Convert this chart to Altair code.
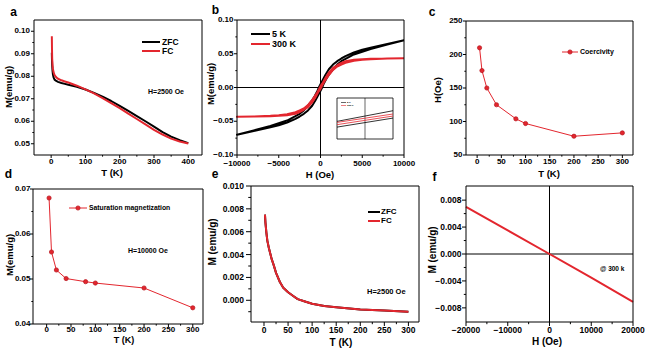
import altair as alt
import pandas as pd

FONT = "Liberation Sans"
RED = "#e3262e"
DRED = "#b5121b"
BLK = "#000000"
W, H = 650, 352

# ---------------- data ----------------
# (a) ZFC / FC at H = 2500 Oe
a_T = [2, 2.5, 3, 4, 5, 7, 10, 15, 20, 30, 40, 50, 75, 100, 125, 150, 175, 200,
       225, 250, 275, 300, 325, 350, 375, 400]
a_zfc = [0.0905, 0.0870, 0.0850, 0.0825, 0.0810, 0.0795, 0.0785, 0.0779, 0.0775, 0.0770,
         0.0766, 0.0762, 0.0753, 0.0741, 0.0726, 0.0709, 0.0690, 0.0668, 0.0646, 0.0623,
         0.0600, 0.0576, 0.0552, 0.0532, 0.0516, 0.0503]
a_fc = [0.0978, 0.0920, 0.0880, 0.0850, 0.0835, 0.0818, 0.0805, 0.0795, 0.0789, 0.0782,
        0.0777, 0.0772, 0.0758, 0.0742, 0.0724, 0.0703, 0.0681, 0.0658, 0.0634, 0.0610,
        0.0586, 0.0562, 0.0541, 0.0523, 0.0510, 0.0501]
a_xticks = [0, 100, 200, 300, 400]
a_xminor = [50, 150, 250, 350]
a_yticks = [0.05, 0.06, 0.07, 0.08, 0.09, 0.10]
a_yminor = [0.055, 0.065, 0.075, 0.085, 0.095]

# (b) hysteresis loops
b_H_down = [10000, 8000, 6000, 5000, 4000, 3000, 2500, 2000, 1500, 1000, 600, 300, 0,
            -200, -400, -700, -1000, -1500, -2000, -2500, -3000, -4000, -5000, -6000, -8000, -10000]
b_H_up = [-10000, -8000, -6000, -5000, -4000, -3000, -2500, -2000, -1500, -1000, -600, -300, 0,
          200, 400, 700, 1000, 1500, 2000, 2500, 3000, 4000, 5000, 6000, 8000, 10000]
b_5K_down = [0.0700, 0.0645, 0.0590, 0.0560, 0.0520, 0.0465, 0.0430, 0.0390, 0.0340, 0.0270,
             0.0190, 0.0120, 0.0050, 0.0000, -0.0060, -0.0130, -0.0190, -0.0270, -0.0340, -0.0390,
             -0.0425, -0.0490, -0.0530, -0.0570, -0.0635, -0.0700]
b_5K_up = [-0.0700, -0.0645, -0.0590, -0.0560, -0.0520, -0.0465, -0.0430, -0.0390, -0.0340, -0.0270,
           -0.0190, -0.0120, -0.0050, 0.0000, 0.0060, 0.0130, 0.0190, 0.0270, 0.0340, 0.0390,
           0.0425, 0.0490, 0.0530, 0.0570, 0.0635, 0.0700]
b_300K_down = [0.0435, 0.0430, 0.0425, 0.0420, 0.0410, 0.0390, 0.0365, 0.0330, 0.0290, 0.0220,
               0.0145, 0.0075, 0.0020, -0.0028, -0.0075, -0.0130, -0.0185, -0.0260, -0.0310, -0.0340,
               -0.0365, -0.0395, -0.0410, -0.0420, -0.0430, -0.0435]
b_300K_up = [-0.0435, -0.0430, -0.0425, -0.0420, -0.0410, -0.0390, -0.0365, -0.0330, -0.0290, -0.0220,
             -0.0145, -0.0075, -0.0020, 0.0028, 0.0075, 0.0130, 0.0185, 0.0260, 0.0310, 0.0340,
             0.0365, 0.0395, 0.0410, 0.0420, 0.0430, 0.0435]
b_xticks = [-10000, -5000, 0, 5000, 10000]
b_xminor = [-7500, -2500, 2500, 7500]
b_yticks = [-0.10, -0.05, 0.0, 0.05, 0.10]
b_yminor = [-0.075, -0.025, 0.025, 0.075]

# (b) inset (low-field zoom)
ins_H = [-1000, 1000]
ins_5K_1 = [-0.0014, 0.0038]
ins_5K_2 = [-0.0042, 0.0002]
ins_300K_1 = [-0.0019, 0.0022]
ins_300K_2 = [-0.0030, 0.0012]

# (c) coercivity
c_T = [5, 10, 20, 40, 80, 100, 200, 300]
c_Hc = [210, 176, 150, 125, 104, 97, 78, 83]
c_xticks = [0, 50, 100, 150, 200, 250, 300]
c_xminor = [25, 75, 125, 175, 225, 275]
c_yticks = [50, 100, 150, 200, 250]
c_yminor = [75, 125, 175, 225]

# (d) saturation magnetization
d_T = [5, 10, 20, 40, 80, 100, 200, 300]
d_Ms = [0.0680, 0.0560, 0.0520, 0.0501, 0.0494, 0.0491, 0.0480, 0.0436]
d_xticks = [0, 50, 100, 150, 200, 250, 300]
d_xminor = [25, 75, 125, 175, 225, 275]
d_yticks = [0.04, 0.05, 0.06, 0.07]
d_yminor = [0.045, 0.055, 0.065]

# (e) ZFC / FC
e_T = [2, 3, 5, 7, 10, 13, 16, 20, 25, 33, 40, 50, 60, 70, 85, 100, 125, 150, 200, 250, 300]
e_zfc = [0.0075, 0.0068, 0.0059, 0.0052, 0.0046, 0.0041, 0.0036, 0.0031, 0.0024, 0.0016, 0.0011,
         0.0007, 0.0004, 0.0001, -0.0001, -0.0003, -0.0005, -0.0006, -0.0008, -0.0009, -0.0010]
e_fc = [0.0075, 0.0068, 0.0059, 0.0052, 0.0046, 0.0041, 0.0036, 0.0031, 0.0024, 0.0016, 0.0011,
        0.0007, 0.0004, 0.0001, -0.0001, -0.0003, -0.0005, -0.0006, -0.0008, -0.0009, -0.0010]
e_xticks = [0, 50, 100, 150, 200, 250, 300]
e_xminor = [25, 75, 125, 175, 225, 275]
e_yticks = [0.000, 0.002, 0.004, 0.006, 0.008, 0.010]
e_yminor = [-0.001, 0.001, 0.003, 0.005, 0.007, 0.009]

# (f) M-H at 300 K
f_H = [-20000, -10000, 0, 10000, 20000]
f_M = [0.0070, 0.0035, 0.0000, -0.0035, -0.0071]
f_xticks = [-20000, -10000, 0, 10000, 20000]
f_xminor = [-15000, -5000, 5000, 15000]
f_yticks = [-0.008, -0.004, 0.0, 0.004, 0.008]
f_yminor = [-0.006, -0.002, 0.002, 0.006]

ONE = pd.DataFrame({"k": [0]})


# ---------------- helpers ----------------
def sc(dom, rng):
    return alt.Scale(domain=dom, range=rng, nice=False, zero=False)


def label(text, x, y, size=8, align="left", baseline="middle", angle=0):
    return alt.Chart(pd.DataFrame({"t": [text]})).mark_text(
        align=align, baseline=baseline, fontSize=size, fontWeight="bold", font=FONT,
        color=BLK, angle=angle
    ).encode(x=alt.value(x), y=alt.value(y), text="t:N")


def x_axis(vals, minor, xs, bottom, fmt, lsize, tick, label_y, title, tx, ty, tsize):
    df = pd.DataFrame({"v": vals})
    dm = pd.DataFrame({"v": minor})
    xe = alt.X("v:Q", scale=xs, axis=None)
    return [
        alt.Chart(df).mark_rule(color=BLK, strokeWidth=1).encode(
            x=xe, y=alt.value(bottom), y2=alt.value(bottom + tick)),
        alt.Chart(dm).mark_rule(color=BLK, strokeWidth=1).encode(
            x=xe, y=alt.value(bottom), y2=alt.value(bottom + tick * 0.55)),
        alt.Chart(df).mark_text(align="center", baseline="middle", fontSize=lsize,
                                fontWeight="bold", font=FONT, color=BLK).encode(
            x=xe, y=alt.value(label_y), text=alt.Text("v:Q", format=fmt)),
        label(title, tx, ty, tsize, "center"),
    ]


def y_axis(vals, minor, ys, left, fmt, lsize, tick, label_x, title, tx, ty, tsize):
    df = pd.DataFrame({"v": vals})
    dm = pd.DataFrame({"v": minor})
    ye = alt.Y("v:Q", scale=ys, axis=None)
    return [
        alt.Chart(df).mark_rule(color=BLK, strokeWidth=1).encode(
            y=ye, x=alt.value(left - tick), x2=alt.value(left)),
        alt.Chart(dm).mark_rule(color=BLK, strokeWidth=1).encode(
            y=ye, x=alt.value(left - tick * 0.55), x2=alt.value(left)),
        alt.Chart(df).mark_text(align="right", baseline="middle", fontSize=lsize,
                                fontWeight="bold", font=FONT, color=BLK).encode(
            y=ye, x=alt.value(label_x), text=alt.Text("v:Q", format=fmt)),
        label(title, tx, ty, tsize, "center", "middle", 270),
    ]


def frame(xs, ys, xd, yd, fill=None, sw=1):
    if fill:
        m = alt.Chart(ONE).mark_rect(fill=fill, stroke=BLK, strokeWidth=sw)
    else:
        m = alt.Chart(ONE).mark_rect(fillOpacity=0, stroke=BLK, strokeWidth=sw)
    return m.encode(x=alt.X(datum=xd[0], scale=xs, axis=None), x2=alt.X2(datum=xd[1]),
                    y=alt.Y(datum=yd[0], scale=ys, axis=None), y2=alt.Y2(datum=yd[1]))


def vzero(xs, ys, yd, sw=1):
    return alt.Chart(ONE).mark_rule(color=BLK, strokeWidth=sw).encode(
        x=alt.X(datum=0, scale=xs, axis=None),
        y=alt.Y(datum=yd[0], scale=ys, axis=None), y2=alt.Y2(datum=yd[1]))


def hzero(xs, ys, xd, sw=1):
    return alt.Chart(ONE).mark_rule(color=BLK, strokeWidth=sw).encode(
        y=alt.Y(datum=0, scale=ys, axis=None),
        x=alt.X(datum=xd[0], scale=xs, axis=None), x2=alt.X2(datum=xd[1]))


def seg(x1, x2, y, color, sw=2):
    return alt.Chart(ONE).mark_rule(color=color, strokeWidth=sw).encode(
        x=alt.value(x1), x2=alt.value(x2), y=alt.value(y))


def dot(x, y):
    return alt.Chart(ONE).mark_point(filled=True, size=18, fill=RED, stroke=DRED,
                                     strokeWidth=0.7, opacity=1).encode(
        x=alt.value(x), y=alt.value(y))


def curve(xs_vals, ys_vals, xs, ys, color, sw=2):
    df = pd.DataFrame({"x": xs_vals, "y": ys_vals, "i": list(range(len(xs_vals)))})
    return alt.Chart(df).mark_line(color=color, strokeWidth=sw, strokeJoin="round").encode(
        x=alt.X("x:Q", scale=xs, axis=None), y=alt.Y("y:Q", scale=ys, axis=None),
        order=alt.Order("i:Q"))


def linepts(xs_vals, ys_vals, xs, ys):
    df = pd.DataFrame({"x": xs_vals, "y": ys_vals})
    xe = alt.X("x:Q", scale=xs, axis=None)
    ye = alt.Y("y:Q", scale=ys, axis=None)
    return [
        alt.Chart(df).mark_line(color=RED, strokeWidth=1).encode(x=xe, y=ye),
        alt.Chart(df).mark_point(filled=True, size=18, fill=RED, stroke=DRED, strokeWidth=0.7,
                                 opacity=1).encode(x=xe, y=ye),
    ]


# ---------------- panel a ----------------
axd, ayd = [-50, 440], [0.045, 0.105]
axs, ays = sc(axd, [34, 202]), sc(ayd, [155, 20])
pa = alt.layer(
    curve(a_T, a_zfc, axs, ays, BLK),
    curve(a_T, a_fc, axs, ays, RED),
    frame(axs, ays, axd, ayd),
    *x_axis(a_xticks, a_xminor, axs, 155, "d", 8, 3, 162, "T (K)", 112, 173, 9.5),
    *y_axis(a_yticks, a_yminor, ays, 34, ".2f", 8, 3, 30, "M(emu/g)", 9, 87, 9.5),
    seg(142, 160, 42, BLK), label("ZFC", 162, 42, 8.5),
    seg(142, 160, 51, RED), label("FC", 162, 51, 8.5),
    label("H=2500 Oe", 148, 92, 7),
    label("a", 13.5, 15.5, 12, "center", "alphabetic"),
)

# ---------------- panel b ----------------
bxd, byd = [-10000, 10000], [-0.10, 0.10]
bxs, bys = sc(bxd, [237, 404]), sc(byd, [155, 20])
pb = alt.layer(
    vzero(bxs, bys, byd), hzero(bxs, bys, bxd),
    curve(b_H_down + b_H_up, b_5K_down + b_5K_up, bxs, bys, BLK),
    curve(b_H_down + b_H_up, b_300K_down + b_300K_up, bxs, bys, RED),
    frame(bxs, bys, bxd, byd),
    *x_axis(b_xticks, b_xminor, bxs, 155, "d", 8, 3, 163.5, "H (Oe)", 320, 175, 9.5),
    *y_axis(b_yticks, b_yminor, bys, 237, ".2f", 8, 3, 233.5, "M(emu/g)", 210.5, 84, 9.5),
    seg(251, 270, 34, BLK), label("5 K", 272, 34, 9),
    seg(251, 270, 44, RED), label("300 K", 272, 44, 9),
    label("b", 215.5, 14, 12, "center", "alphabetic"),
)

# ---------------- inset of b ----------------
ixd, iyd = [-1000, 1000], [-0.01, 0.01]
ixs, iys = sc(ixd, [337, 393]), sc(iyd, [139, 98])
pin = alt.layer(
    frame(ixs, iys, ixd, iyd, fill="white", sw=0.8),
    vzero(ixs, iys, iyd, sw=0.6),
    curve(ins_H, ins_5K_1, ixs, iys, BLK, 0.8),
    curve(ins_H, ins_5K_2, ixs, iys, BLK, 0.8),
    curve(ins_H, ins_300K_1, ixs, iys, RED, 0.8),
    curve(ins_H, ins_300K_2, ixs, iys, RED, 0.8),
    seg(341, 346, 102.5, BLK, 0.6), label("5 K", 347, 102.5, 2.5),
    seg(341, 346, 105.5, RED, 0.6), label("300 K", 347, 105.5, 2.5),
)

# ---------------- panel c ----------------
cxd, cyd = [-23, 322], [50, 250]
cxs, cys = sc(cxd, [466, 633]), sc(cyd, [155, 21])
pc = alt.layer(
    *linepts(c_T, c_Hc, cxs, cys),
    frame(cxs, cys, cxd, cyd),
    *x_axis(c_xticks, c_xminor, cxs, 155, "d", 8, 3, 162, "T (K)", 549, 174, 9.5),
    *y_axis(c_yticks, c_yminor, cys, 466, "d", 8, 3, 462.5, "H(Oe)", 438, 90, 9.5),
    seg(562, 578, 52, RED, 1), dot(570, 52), label("Coercivity", 580, 52, 7),
    label("c", 432, 16, 12, "center", "alphabetic"),
)

# ---------------- panel d ----------------
dxd, dyd = [-28, 321], [0.04, 0.07]
dxs, dys = sc(dxd, [33, 203]), sc(dyd, [324, 189])
pd_ = alt.layer(
    *linepts(d_T, d_Ms, dxs, dys),
    frame(dxs, dys, dxd, dyd),
    *x_axis(d_xticks, d_xminor, dxs, 324, "d", 8, 3, 330, "T (K)", 124, 339.5, 9),
    *y_axis(d_yticks, d_yminor, dys, 33, ".2f", 8, 3, 30.5, "M(emu/g)", 9.5, 255, 9.5),
    seg(69, 87, 208, RED, 1), dot(78, 208), label("Saturation magnetization", 89, 208, 6.8),
    label("H=10000 Oe", 128, 251, 7),
    label("d", 8.5, 177.5, 12, "center", "alphabetic"),
)

# ---------------- panel e ----------------
exd, eyd = [-27, 322], [-0.0019, 0.010]
exs, eys = sc(exd, [251, 419]), sc(eyd, [322, 186])
pe = alt.layer(
    curve(e_T, e_zfc, exs, eys, BLK),
    curve(e_T, e_fc, exs, eys, RED),
    frame(exs, eys, exd, eyd),
    *x_axis(e_xticks, e_xminor, exs, 322, "d", 8.5, 4, 330, "T (K)", 341, 343, 10),
    *y_axis(e_yticks, e_yminor, eys, 251, ".3f", 8.5, 5, 244, "M (emu/g)", 212.5, 242, 10),
    seg(368, 380, 212, BLK), label("ZFC", 381, 212, 8),
    seg(368, 380, 221, RED), label("FC", 381, 221, 8),
    label("H=2500 Oe", 367, 292, 7.5),
    label("e", 215, 177.5, 12, "center", "alphabetic"),
)

# ---------------- panel f ----------------
fxd, fyd = [-20000, 20000], [-0.0101, 0.0101]
fxs, fys = sc(fxd, [466, 633]), sc(fyd, [322, 186])
pf = alt.layer(
    vzero(fxs, fys, fyd), hzero(fxs, fys, fxd),
    curve(f_H, f_M, fxs, fys, RED),
    frame(fxs, fys, fxd, fyd),
    *x_axis(f_xticks, f_xminor, fxs, 322, "d", 8.5, 4, 329.5, "H (Oe)", 547, 342, 10),
    *y_axis(f_yticks, f_yminor, fys, 466, ".3f", 8.5, 4, 461.5, "M (emu/g)", 432.5, 250, 10),
    label("@ 300 k", 600, 269, 6.5),
    label("f", 434.5, 181, 12, "center", "alphabetic"),
)

chart = alt.layer(pa, pb, pin, pc, pd_, pe, pf).resolve_scale(
    x="independent", y="independent"
).properties(
    width=W, height=H, autosize=alt.AutoSizeParams(type="none"), padding=0, background="white"
).configure_view(stroke=None)

chart.save("out.html", embed_options={"renderer": "svg", "actions": False})
